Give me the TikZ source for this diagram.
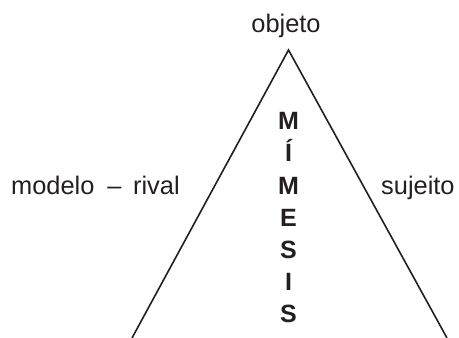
\documentclass[tikz,border=0pt]{standalone}
\usepackage{fontspec}
\setmainfont{Liberation Sans}
\definecolor{ink}{HTML}{231F20}
\begin{document}
\begin{tikzpicture}[x=1pt,y=-1pt,
  label/.style={inner sep=0pt,text=ink,font=\fontsize{25.4}{25.4}\selectfont},
  letter/.style={inner sep=0pt,text=ink,anchor=base,font=\fontsize{25}{25}\selectfont\bfseries},
  side/.style={draw=ink,line width=1.6pt,line join=miter}]
  \useasboundingbox (0,0) rectangle (459,338);
  % apex and base corners of the triangle
  \coordinate (apex) at (288.5,50);
  \coordinate (bl) at (132,338);
  \coordinate (br) at (447,338);
  \draw[side] (bl) -- (apex) -- (br);
  % labels around the triangle
  \node[label,anchor=base] (obj) at (286,32) {objeto};
  \node[label,anchor=base west] (mod) at (11,194) {modelo\hspace{13pt}\textendash\hspace{11.5pt}rival};
  \node[label,anchor=base west] (suj) at (381,194) {sujeito};
  % vertical word inside the triangle
  \node[letter] (l1) at (288.5,129.8) {M};
  \node[letter] (l2) at (288.5,161.8) {Í};
  \node[letter] (l3) at (288.5,194) {M};
  \node[letter] (l4) at (288.5,226.3) {E};
  \node[letter] (l5) at (288.5,258.3) {S};
  \node[letter] (l6) at (288.5,290.3) {I};
  \node[letter] (l7) at (288.5,322) {S};
\end{tikzpicture}
\end{document}
